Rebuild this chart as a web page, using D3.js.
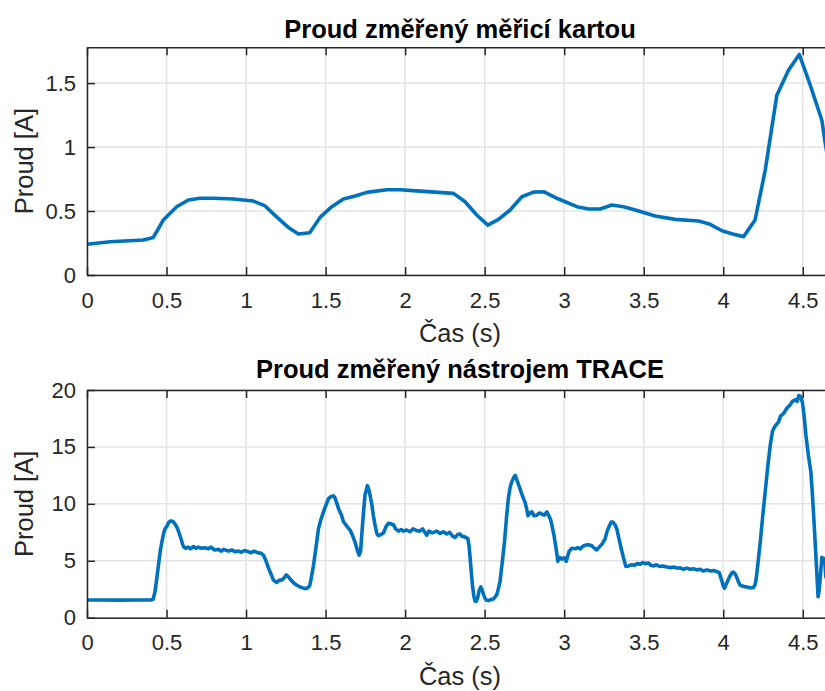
<!DOCTYPE html>
<html>
<head>
<meta charset="utf-8">
<script src="https://cdn.jsdelivr.net/npm/d3@7"></script>
<style>
  html, body { margin: 0; padding: 0; background: #fff; }
  svg { display: block; font-family: "Liberation Sans", Arial, Helvetica, sans-serif; }
</style>
</head>
<body>
<div id="chart"></div>
<script>
// measured by the card (top panel)
var cardTime = [0, 0.145, 0.354, 0.417, 0.48, 0.564, 0.637, 0.711, 0.795, 0.92, 1.046, 1.12, 1.19, 1.266, 1.329, 1.40,
  1.465, 1.539, 1.612, 1.686, 1.759, 1.885, 1.969, 2.094, 2.304, 2.377, 2.45, 2.52, 2.587, 2.66, 2.734, 2.807, 2.87,
  2.965, 3.08, 3.153, 3.226, 3.30, 3.373, 3.447, 3.572, 3.698, 3.845, 3.918, 3.992, 4.065, 4.128, 4.20, 4.264, 4.337,
  4.41, 4.478, 4.547, 4.62, 4.64, 4.70];
var cardCurrent = [0.24, 0.26, 0.273, 0.294, 0.43, 0.534, 0.586, 0.60, 0.60, 0.594, 0.578, 0.54, 0.456, 0.372, 0.32, 0.33,
  0.45, 0.534, 0.594, 0.617, 0.646, 0.667, 0.667, 0.656, 0.638, 0.573, 0.469, 0.39, 0.435, 0.508, 0.612, 0.648, 0.651,
  0.594, 0.534, 0.516, 0.516, 0.547, 0.534, 0.508, 0.461, 0.435, 0.422, 0.396, 0.346, 0.318, 0.30, 0.43, 0.82, 1.406,
  1.60, 1.724, 1.484, 1.21, 1.04, 0.6];

// measured by TRACE (bottom panel)
var traceTime = [0, 0.1, 0.2, 0.3, 0.4, 0.415, 0.428, 0.44, 0.449, 0.46, 0.47, 0.48, 0.49, 0.501, 0.515, 0.528, 0.54,
  0.553, 0.57, 0.585, 0.596, 0.606, 0.62, 0.637, 0.65, 0.67, 0.685, 0.70, 0.72, 0.74, 0.763, 0.78, 0.80, 0.826, 0.845,
  0.86, 0.889, 0.91, 0.93, 0.952, 0.97, 0.99, 1.014, 1.03, 1.05, 1.077, 1.095, 1.109, 1.125, 1.14, 1.158, 1.172, 1.193,
  1.21, 1.224, 1.24, 1.252, 1.265, 1.277, 1.30, 1.319, 1.34, 1.36, 1.375, 1.39, 1.40, 1.41, 1.424, 1.44, 1.455, 1.47,
  1.487, 1.50, 1.518, 1.535, 1.549, 1.56, 1.581, 1.60, 1.612, 1.63, 1.654, 1.67, 1.686, 1.70, 1.711, 1.72, 1.727, 1.738,
  1.748, 1.763, 1.775, 1.791, 1.80, 1.811, 1.822, 1.832, 1.848, 1.864, 1.88, 1.895, 1.91, 1.927, 1.94, 1.958, 1.975,
  1.99, 2.01, 2.03, 2.05, 2.073, 2.09, 2.11, 2.136, 2.15, 2.17, 2.199, 2.22, 2.24, 2.262, 2.28, 2.30, 2.314, 2.33, 2.346,
  2.357, 2.375, 2.394, 2.402, 2.409, 2.416, 2.423, 2.432, 2.44, 2.448, 2.457, 2.466, 2.476, 2.487, 2.499, 2.51, 2.524,
  2.54, 2.556, 2.567, 2.577, 2.587, 2.597, 2.61, 2.625, 2.638, 2.65, 2.661, 2.671, 2.682, 2.692, 2.705, 2.723, 2.74,
  2.755, 2.765, 2.772, 2.785, 2.797, 2.81, 2.828, 2.845, 2.86, 2.875, 2.891, 2.905, 2.915, 2.923, 2.935, 2.943, 2.952,
  2.96, 2.972, 2.985, 3.0, 3.013, 3.03, 3.048, 3.07, 3.085, 3.101, 3.12, 3.14, 3.153, 3.17, 3.19, 3.205, 3.22, 3.24,
  3.258, 3.27, 3.285, 3.296, 3.306, 3.318, 3.331, 3.345, 3.358, 3.372, 3.388, 3.405, 3.425, 3.44, 3.46, 3.478, 3.495,
  3.509, 3.53, 3.545, 3.562, 3.58, 3.60, 3.62, 3.646, 3.67, 3.69, 3.71, 3.73, 3.75, 3.77, 3.79, 3.813, 3.835, 3.855,
  3.875, 3.897, 3.92, 3.94, 3.96, 3.975, 3.985, 3.992, 4.0, 4.008, 4.017, 4.027, 4.04, 4.055, 4.065, 4.075, 4.086,
  4.097, 4.107, 4.125, 4.149, 4.17, 4.19, 4.2, 4.208, 4.22, 4.233, 4.248, 4.264, 4.28, 4.296, 4.31, 4.325, 4.348, 4.36,
  4.38, 4.40, 4.421, 4.435, 4.453, 4.465, 4.475, 4.484, 4.492, 4.499, 4.51, 4.52, 4.535, 4.551, 4.562, 4.572, 4.585,
  4.596, 4.603, 4.61, 4.62, 4.628, 4.637, 4.645, 4.66];
var traceCurrent = [1.55, 1.55, 1.54, 1.55, 1.55, 1.6, 2.3, 3.6, 4.6, 5.8, 6.6, 7.3, 7.8, 8.0, 8.4, 8.5, 8.45,
  8.25, 7.8, 7.2, 6.7, 6.25, 6.1, 6.2, 6.05, 6.25, 6.1, 6.2, 6.1, 6.15, 6.05, 6.2, 5.95, 6.0, 5.85,
  6.0, 5.85, 5.95, 5.8, 5.85, 5.75, 5.9, 5.8, 5.7, 5.85, 5.7, 5.65, 5.5, 5.0, 4.4, 3.8, 3.3, 3.1,
  3.3, 3.3, 3.5, 3.75, 3.6, 3.4, 3.05, 2.85, 2.7, 2.6, 2.55, 2.65, 2.8, 3.5, 4.6, 6.2, 7.8, 8.6,
  9.3, 9.8, 10.45, 10.65, 10.7, 10.5, 9.6, 9.0, 8.45, 8.1, 7.7, 7.2, 6.6, 5.9, 5.5, 5.8, 7.2, 9.2,
  10.8, 11.6, 11.1, 9.9, 9.0, 8.1, 7.4, 7.2, 7.3, 7.45, 8.0, 8.3, 8.25, 8.15, 7.8, 7.6, 7.75,
  7.6, 7.7, 7.55, 7.8, 7.65, 7.6, 7.8, 7.25, 7.6, 7.45, 7.6, 7.4, 7.55, 7.35, 7.5, 7.15, 7.05, 7.3, 7.35,
  7.15, 7.1, 6.95, 6.3, 5.2, 4.0, 2.9, 1.9, 1.45, 1.45, 1.8, 2.4, 2.7, 2.3, 1.8, 1.55, 1.5,
  1.6, 1.65, 1.85, 2.05, 2.6, 3.2, 4.8, 6.7, 8.9, 10.6, 11.5, 11.95, 12.3, 12.5, 12.0, 11.3, 10.6,
  10.1, 9.5, 8.95, 9.2, 9.3, 8.95, 9.0, 9.2, 9.1, 9.0, 9.3, 8.9, 8.6, 8.1, 7.3, 6.6, 5.8,
  4.95, 5.3, 5.15, 5.25, 4.95, 5.8, 6.1, 6.05, 6.15, 6.05, 6.3, 6.4, 6.4, 6.35, 6.1, 5.95, 6.2, 6.5,
  6.95, 7.6, 8.1, 8.4, 8.4, 8.2, 7.8, 6.9, 6.1, 5.3, 4.5, 4.55, 4.65, 4.6, 4.75, 4.7, 4.85,
  4.75, 4.8, 4.6, 4.55, 4.65, 4.5, 4.55, 4.45, 4.4, 4.45, 4.35, 4.38, 4.25, 4.35, 4.25, 4.3, 4.2, 4.25,
  4.1, 4.2, 4.1, 4.15, 4.05, 3.95, 3.5, 3.2, 2.8, 2.6, 2.9, 3.2, 3.6, 3.95, 4.0, 3.85, 3.5,
  3.1, 2.85, 2.75, 2.7, 2.62, 2.65, 2.9, 3.5, 5.0, 6.7, 8.9, 11.1, 13.3, 15.2, 16.4, 16.8, 17.2, 17.7,
  17.95, 18.4, 18.7, 19.0, 19.15, 19.0, 19.5, 19.45, 19.2, 18.8, 17.5, 16.0, 14.3, 12.8, 10.5, 8.1, 4.8,
  1.85, 2.4, 3.5, 5.3, 5.2, 5.2, 3.6, 3.0];

var xTicks = [0, 0.5, 1, 1.5, 2, 2.5, 3, 3.5, 4, 4.5];
var cardTicks = [0, 0.5, 1, 1.5];
var traceTicks = [0, 5, 10, 15, 20];

var W = 825, H = 691;
var margin = { left: 87, width: 746 };
var axisColor = "#262626", gridColor = "#e3e3e3", lineColor = "#0072bd";

var svg = d3.select("#chart").append("svg")
  .attr("width", W).attr("height", H);

var x = d3.scaleLinear().domain([0, 4.69]).range([0, margin.width]);

function drawPanel(opts) {
  var h = opts.bottom - opts.top;
  var y = d3.scaleLinear().domain(opts.yDomain).range([h, 0]);

  var g = svg.append("g")
    .attr("transform", "translate(" + margin.left + "," + opts.top + ")");

  // grid
  g.append("g").selectAll("line").data(xTicks).join("line")
    .attr("x1", function (d) { return x(d); }).attr("x2", function (d) { return x(d); })
    .attr("y1", 0).attr("y2", h)
    .attr("stroke", gridColor).attr("stroke-width", 1.5);
  g.append("g").selectAll("line").data(opts.yTicks).join("line")
    .attr("x1", 0).attr("x2", margin.width)
    .attr("y1", function (d) { return y(d); }).attr("y2", function (d) { return y(d); })
    .attr("stroke", gridColor).attr("stroke-width", 1.5);

  // data line
  var clipId = "clip" + Math.round(opts.top);
  g.append("clipPath").attr("id", clipId)
    .append("rect").attr("width", margin.width).attr("height", h);
  var line = d3.line()
    .x(function (d) { return x(d[0]); })
    .y(function (d) { return y(d[1]); });
  g.append("path")
    .datum(d3.zip(opts.times, opts.values))
    .attr("clip-path", "url(#" + clipId + ")")
    .attr("fill", "none")
    .attr("stroke", lineColor)
    .attr("stroke-width", 3.6)
    .attr("stroke-linejoin", "round")
    .attr("d", line);

  // axes
  var xAxis = g.append("g").attr("transform", "translate(0," + h + ")")
    .call(d3.axisBottom(x).tickValues(xTicks).tickFormat(d3.format("~g"))
      .tickSizeInner(-8).tickSizeOuter(0).tickPadding(17));
  var xTop = g.append("g")
    .call(d3.axisTop(x).tickValues(xTicks).tickFormat("")
      .tickSizeInner(-8).tickSizeOuter(0));
  var yAxis = g.append("g")
    .call(d3.axisLeft(y).tickValues(opts.yTicks).tickFormat(d3.format("~g"))
      .tickSizeInner(-8).tickSizeOuter(0).tickPadding(11));

  [xAxis, xTop, yAxis].forEach(function (a) {
    a.select(".domain").attr("stroke", axisColor).attr("stroke-width", 1.5);
    a.selectAll(".tick line").attr("stroke", axisColor).attr("stroke-width", 1.5);
    a.selectAll(".tick text")
      .attr("fill", axisColor)
      .style("font-size", "22px")
      .style("font-family", "'Liberation Sans', Arial, sans-serif");
  });

  // title
  svg.append("text")
    .attr("x", margin.left + margin.width / 2)
    .attr("y", opts.titleY)
    .attr("text-anchor", "middle")
    .attr("font-size", 25.5).attr("font-weight", "bold")
    .attr("fill", "#000")
    .text(opts.title);

  // x label
  svg.append("text")
    .attr("x", margin.left + margin.width / 2)
    .attr("y", opts.bottom + 67)
    .attr("text-anchor", "middle")
    .attr("font-size", 25.5).attr("fill", axisColor)
    .text("Čas (s)");

  // y label
  svg.append("text")
    .attr("transform", "translate(33," + (opts.top + h / 2) + ") rotate(-90)")
    .attr("text-anchor", "middle")
    .attr("font-size", 25.5).attr("fill", axisColor)
    .text("Proud [A]");
}

drawPanel({
  top: 47.3, bottom: 275, yDomain: [0, 1.78], yTicks: cardTicks,
  times: cardTime, values: cardCurrent, titleY: 38.3,
  title: "Proud změřený měřicí kartou"
});

drawPanel({
  top: 390, bottom: 617.7, yDomain: [0, 20], yTicks: traceTicks,
  times: traceTime, values: traceCurrent, titleY: 378.3,
  title: "Proud změřený nástrojem TRACE"
});
</script>
</body>
</html>
